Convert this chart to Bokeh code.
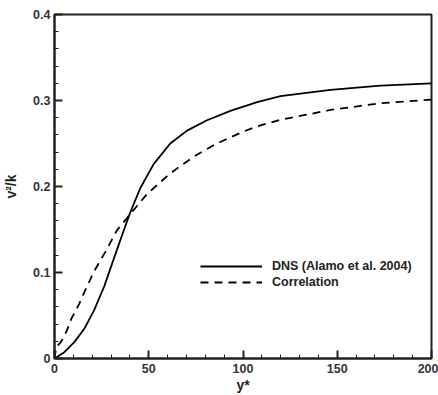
from bokeh.plotting import figure
from bokeh.models import Range1d, SingleIntervalTicker, CustomJSTickFormatter, Legend, LegendItem
from bokeh.embed import file_html
from bokeh.resources import INLINE

# DNS (Alamo et al. 2004)
dns_x = [0, 5.2, 10.5, 15.8, 21.1, 26.4, 31.3, 35.8, 40.2, 45.5, 52.6, 61.4, 70.3, 80.9, 93.3, 107.5, 119.9, 146.4, 173, 200]
dns_y = [0, 0.0074, 0.019, 0.0345, 0.0565, 0.084, 0.115, 0.143, 0.170, 0.198, 0.226, 0.250, 0.265, 0.277, 0.288, 0.298, 0.305, 0.3124, 0.3174, 0.320]

# Correlation
cor_x = [0, 1, 3, 5, 7, 9, 10.8, 13.1, 15.4, 20.7, 24.3, 27, 33.1, 40.2, 49, 59.7, 66.8, 75.6, 84.4, 91.6, 100.4, 107.5, 119.9, 146.4, 173, 200]
cor_y = [0, 0.014, 0.018, 0.025, 0.035, 0.0465, 0.0538, 0.0636, 0.0752, 0.100, 0.114, 0.124, 0.149, 0.168, 0.191, 0.212, 0.224, 0.237, 0.248, 0.2555, 0.264, 0.270, 0.2775, 0.289, 0.2969, 0.301]

x_ticks_interval = 50
y_ticks_interval = 0.1

FONT = "Liberation Sans"
DARK = "#222222"

p = figure(width=438, height=395, output_backend="svg", toolbar_location=None,
           x_range=Range1d(0, 200), y_range=Range1d(0, 0.4),
           min_border_left=54, min_border_right=7, min_border_top=14, min_border_bottom=37)

p.xgrid.visible = False
p.ygrid.visible = False
p.outline_line_color = DARK
p.outline_line_width = 2
p.outline_line_alpha = 1
p.background_fill_color = "white"
p.border_fill_color = "white"

r1 = p.line(dns_x, dns_y, line_color="black", line_width=1.8)
r2 = p.line(cor_x, cor_y, line_color="black", line_width=1.8, line_dash="8 6")

p.xaxis.ticker = SingleIntervalTicker(interval=x_ticks_interval, num_minor_ticks=5)
p.yaxis.ticker = SingleIntervalTicker(interval=y_ticks_interval, num_minor_ticks=5)
p.yaxis.formatter = CustomJSTickFormatter(code="return Math.abs(tick) < 1e-9 ? '0' : tick.toFixed(1);")

for ax in (p.xaxis[0], p.yaxis[0]):
    ax.axis_line_color = DARK
    ax.axis_line_width = 2
    ax.major_tick_in = 8
    ax.major_tick_out = 0
    ax.minor_tick_in = 4
    ax.minor_tick_out = 0
    ax.major_tick_line_color = DARK
    ax.major_tick_line_width = 2
    ax.minor_tick_line_color = DARK
    ax.minor_tick_line_width = 1
    ax.major_label_text_font = FONT
    ax.major_label_text_font_size = "12.5px"
    ax.major_label_text_font_style = "bold"
    ax.major_label_text_color = "#333333"
    ax.axis_label_text_font = FONT
    ax.axis_label_text_font_size = "14px"
    ax.axis_label_text_font_style = "bold"
    ax.axis_label_text_color = DARK

p.xaxis.major_label_standoff = 5
p.yaxis.major_label_standoff = 4
p.xaxis.axis_label = "y*"
p.yaxis.axis_label = "v²/k"
p.xaxis.axis_label_standoff = 1
p.yaxis.axis_label_standoff = 11

legend = Legend(items=[LegendItem(label="DNS (Alamo et al. 2004)", renderers=[r1]),
                       LegendItem(label="Correlation", renderers=[r2])],
                location=(146, 68), orientation="vertical")
legend.border_line_color = None
legend.background_fill_alpha = 0
legend.padding = 0
legend.margin = 0
legend.spacing = 0
legend.glyph_width = 62
legend.glyph_height = 16
legend.label_height = 16
legend.label_standoff = 10
legend.label_text_font = FONT
legend.label_text_font_size = "12.5px"
legend.label_text_font_style = "bold"
legend.label_text_color = DARK
p.add_layout(legend, "center")

open("out.html", "w").write(file_html(p, INLINE))
